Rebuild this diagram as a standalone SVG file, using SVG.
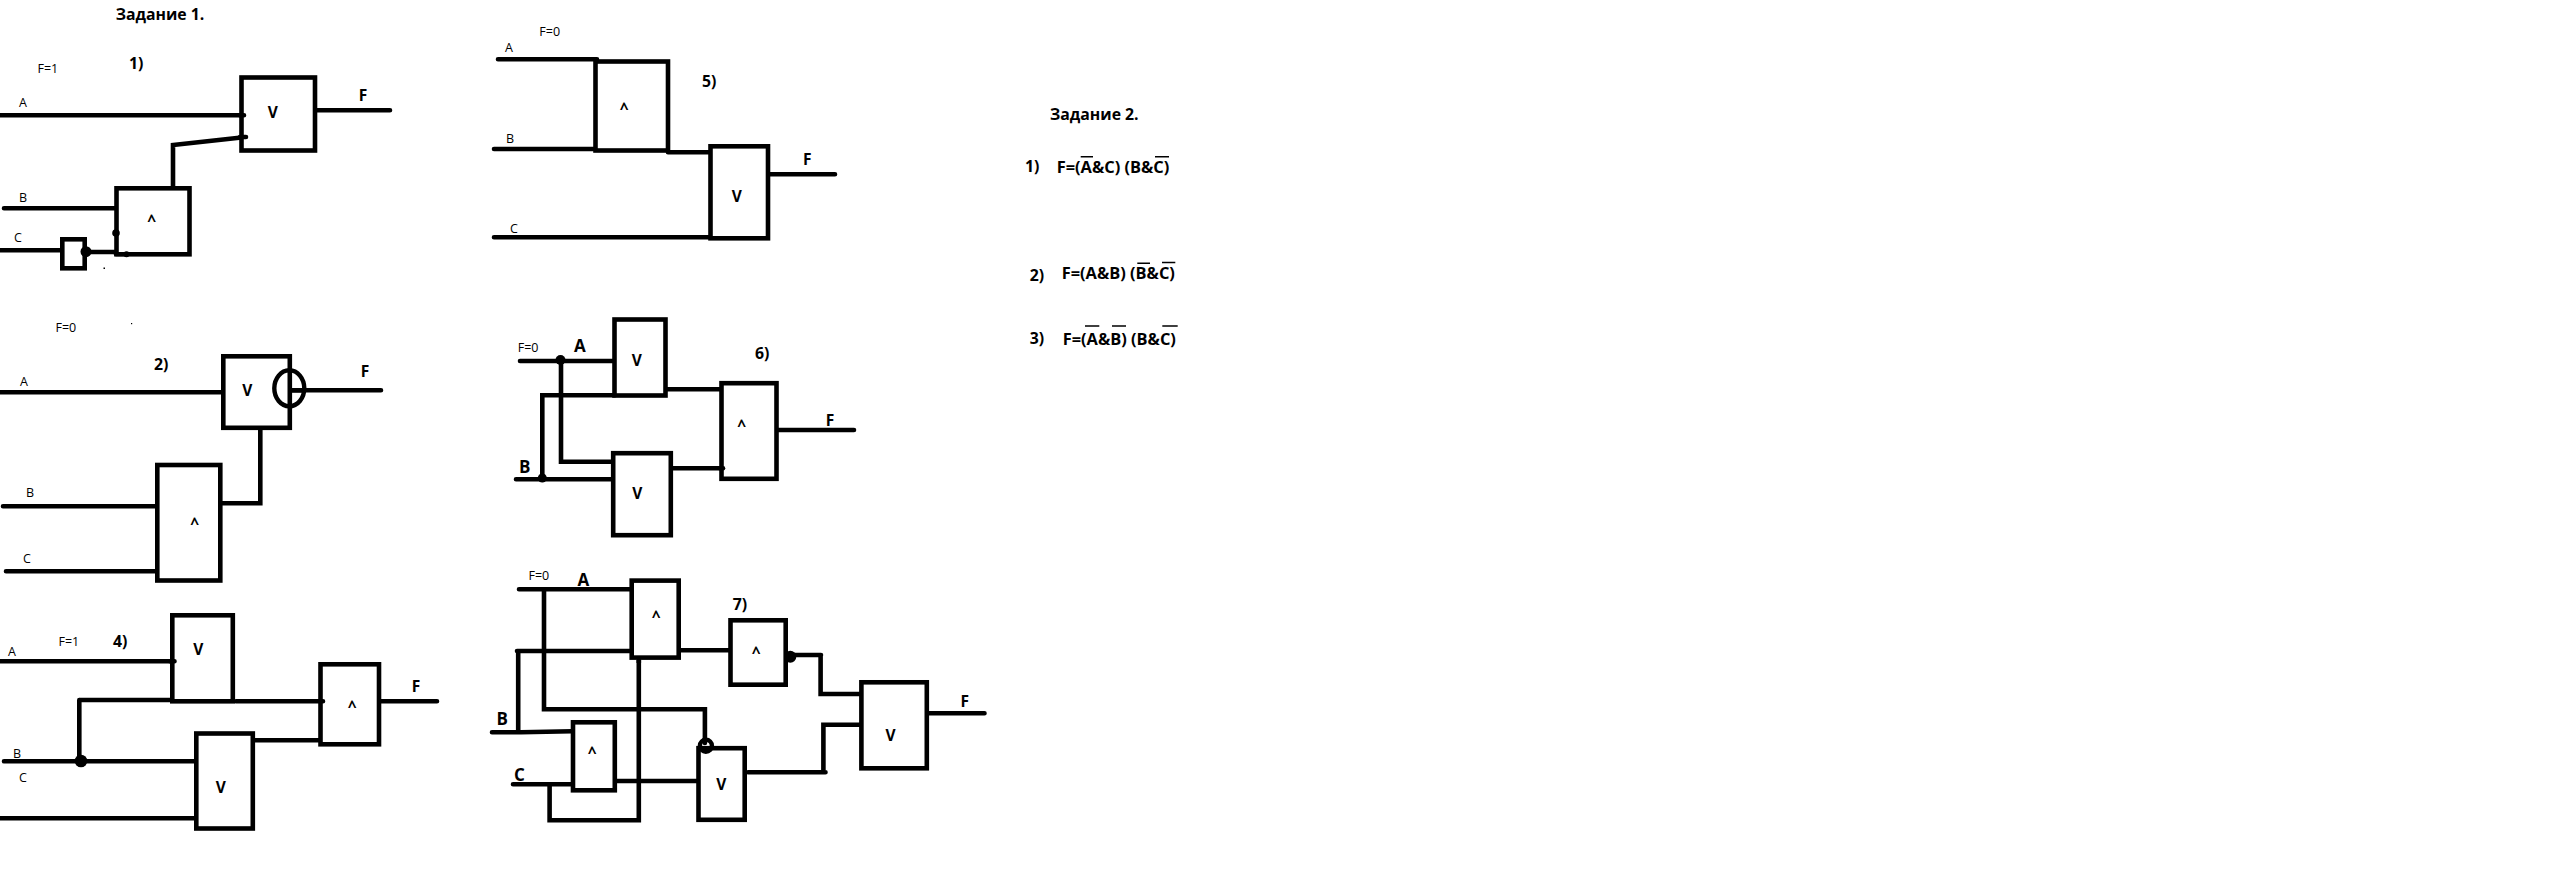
<svg xmlns="http://www.w3.org/2000/svg" width="2553" height="870" viewBox="0 0 2553 870">
<style>
text{font-family:"Open Sans","Noto Sans",sans-serif;fill:#000}
.g{fill:#fff;stroke:#000;stroke-width:4.6}
.w{fill:none;stroke:#000;stroke-width:4.6;stroke-linecap:round;stroke-linejoin:miter}
.o{fill:none;stroke:#000;stroke-width:1.4}
.d{fill:#000}
.r{fill:none;stroke:#000;stroke-width:4.4}
.b{font-weight:700;font-size:15.5px}
.c{font-weight:700;font-size:15.5px;text-anchor:middle}
.s{font-size:12.5px}
.h{font-weight:700;font-size:17px}
.t{font-weight:700;font-size:16.4px}
.n{font-weight:700;font-size:15.8px}
</style>
<rect width="2553" height="870" fill="#fff"/>
<g id="connectors">
<path class="w" d="M0 115.3H244M315 110.3H390M173 187V145L246 137M4 208.3H116M0 250.3H62M86 252H116M116 254H125"/>
<path class="w" d="M0 392.3H222M290 390.3H381M260.3 430V503.3H222M3 506.3H156M6 571.3H156"/>
<path class="w" d="M0 661.3H174.5M172 700H80M79.3 700V760.7M236 701.3H323M381 701.3H437M253 740.3H320M4 761.3H195M0 818.3H195"/>
<path class="w" d="M498 59.3H597M494 149H595M494 237.3H712M668 152.3H711M770 174.3H835"/>
<path class="w" d="M520 361H613M516 479.3H612M561 358V461.7H613M542.3 478V395.3H615M667 389.3H720M671 468.3H723M778 430H854"/>
<path class="w" d="M519 589.3H632M544 589.3V709.3H704.9V743M517 651H632M518.2 651V732.3M492 732.3H521L572 731.3M513 784.3H573M549.6 784.3V820.3H638.8V660M617 781H697M748 772.3H825.5M823.4 772.3V724.7H860M680 650.3H731M788 655H821M820.6 655V694H860M929 713.3H984.5"/>
</g>
<g id="title1"><text class="n" x="115.7" y="20">Задание 1.</text></g>
<g id="circuit1">
<text class="s" x="37.5" y="72.7">F=1</text>
<text class="n" x="129" y="69">1)</text>
<text class="s" x="19" y="107">A</text>
<text class="s" x="19" y="201.7">B</text>
<text class="s" x="14" y="241.7">C</text>
<text class="b" x="358.7" y="100.7">F</text>
</g>
<g id="n1-or"><rect class="g" x="241.5" y="77.5" width="73.5" height="73"/><text class="c" x="272.7" y="118">V</text></g>
<path class="w" d="M240 115.3H244M240 137H246"/>
<g id="n1-and"><rect class="g" x="116.5" y="188.3" width="73" height="66"/><text class="c" x="151.7" y="226">^</text></g>
<g id="n1-not"><rect class="g" x="62.3" y="239.3" width="22.4" height="29"/><circle class="d" cx="86" cy="251.7" r="5.5"/></g>
<circle class="d" cx="116" cy="233" r="3.8"/><circle class="d" cx="126.5" cy="254.3" r="3"/><rect class="d" x="103.5" y="267.5" width="1.5" height="1.5"/>
<g id="circuit2">
<text class="s" x="55.5" y="331.7">F=0</text>
<rect class="d" x="131" y="323" width="1.2" height="1.2"/>
<text class="n" x="154" y="370">2)</text>
<text class="s" x="20" y="386">A</text>
<text class="s" x="26" y="497.3">B</text>
<text class="s" x="23" y="562.7">C</text>
<text class="b" x="360.7" y="376.7">F</text>
</g>
<g id="n2-or"><rect class="g" x="223.3" y="356.3" width="66.5" height="71.5"/><text class="c" x="247.3" y="396">V</text><ellipse class="r" cx="289.3" cy="388.3" rx="15" ry="18"/><path class="w" style="stroke-linecap:butt" d="M289.5 390.3H306"/></g>
<g id="n2-and"><rect class="g" x="157.3" y="465" width="63" height="115.5"/><text class="c" x="194.7" y="529">^</text></g>
<g id="circuit4">
<text class="s" x="58.5" y="645.7">F=1</text>
<text class="n" x="113" y="646.7">4)</text>
<text class="s" x="8" y="656">A</text>
<text class="s" x="13" y="757.7">B</text>
<text class="s" x="19" y="782">C</text>
<text class="b" x="411.7" y="691.7">F</text>
<circle class="d" cx="81" cy="761" r="6.3"/>
</g>
<g id="n4-or1"><rect class="g" x="172.3" y="615.3" width="60.5" height="86"/><text class="c" x="198.3" y="655">V</text></g>
<g id="n4-or2"><rect class="g" x="196.3" y="733.5" width="56.5" height="95"/><text class="c" x="220.7" y="792.7">V</text></g>
<g id="n4-and"><rect class="g" x="320.5" y="664.3" width="58.5" height="80"/><text class="c" x="352.3" y="712">^</text></g>
<path class="w" d="M170 661.3H174.5M320 701.3H323"/>
<g id="circuit5">
<text class="s" x="539.3" y="35.7">F=0</text>
<text class="s" x="505" y="51.7">A</text>
<text class="s" x="506" y="142.7">B</text>
<text class="s" x="510" y="233.3">C</text>
<text class="n" x="702" y="87.3">5)</text>
<text class="b" x="803" y="165">F</text>
<rect class="d" x="747" y="189" width="1.2" height="1.2"/>
</g>
<g id="n5-and"><rect class="g" x="595.5" y="61.5" width="72.5" height="89"/><text class="c" x="624.3" y="114">^</text></g>
<g id="n5-or"><rect class="g" x="710.5" y="146.3" width="57.5" height="92"/><text class="c" x="736.7" y="201.7">V</text></g>
<g id="circuit6">
<text class="s" x="517.7" y="351.7">F=0</text>
<text class="h" x="574" y="352.3">A</text>
<text class="h" x="519" y="472.7">B</text>
<text class="n" x="755" y="359.3">6)</text>
<text class="b" x="825.7" y="425.7">F</text>
<circle class="d" cx="560.5" cy="360" r="5"/><circle class="d" cx="542.3" cy="478" r="4.5"/>
</g>
<g id="n6-or1"><rect class="g" x="614.5" y="319.5" width="51" height="76"/><text class="c" x="636.7" y="366">V</text></g>
<g id="n6-or2"><rect class="g" x="613.2" y="453.2" width="57.6" height="82"/><text class="c" x="637.3" y="499.3">V</text></g>
<g id="n6-and"><rect class="g" x="721.5" y="383.2" width="55" height="95.6"/><text class="c" x="741.7" y="431">^</text></g>
<path class="w" d="M720 468.3H723"/>
<g id="circuit7">
<text class="s" x="528.5" y="580">F=0</text>
<text class="h" x="577.5" y="586">A</text>
<text class="h" x="496.5" y="725">B</text>
<text class="h" x="514" y="780.7">C</text>
<text class="n" x="732.8" y="610">7)</text>
<text class="b" x="960.4" y="706.7">F</text>
</g>
<g id="n7-and1"><rect class="g" x="631.7" y="580.6" width="47" height="77"/><text class="c" x="656.3" y="622">^</text></g>
<g id="n7-and2"><rect class="g" x="573" y="722.3" width="41.8" height="68"/><text class="c" x="592.3" y="757.7">^</text></g>
<g id="n7-and3"><rect class="g" x="730.5" y="620.3" width="55.2" height="64.4"/><text class="c" x="756.2" y="658">^</text><circle class="d" cx="790.3" cy="656.7" r="6"/></g>
<g id="n7-or1"><rect class="g" x="698.5" y="748.2" width="46.2" height="71.6"/><text class="c" x="721.4" y="790">V</text><circle class="r" cx="705.9" cy="745.7" r="6"/></g>
<g id="n7-or2"><rect class="g" x="861.4" y="682.3" width="65.4" height="86"/><text class="c" x="890.5" y="740.7">V</text></g>
<path class="w" style="stroke-linecap:butt" d="M638.8 660V663"/>
<g id="task2">
<text class="n" x="1050" y="120">Задание 2.</text>
<text class="n" x="1025" y="172.3">1)</text>
<text class="t" x="1056.7" y="173">F=(A&amp;C) (B&amp;C)</text>
<path class="o" d="M1080.7 156.7H1093M1155 156.7H1169"/>
<text class="n" x="1029.7" y="280.7">2)</text>
<text class="t" x="1061.7" y="279.3">F=(A&amp;B) (B&amp;C)</text>
<path class="o" d="M1137.3 263.3H1150M1162 262.5H1175.3"/>
<text class="n" x="1029.7" y="344.3">3)</text>
<text class="t" x="1062.7" y="345">F=(A&amp;B) (B&amp;C)</text>
<path class="o" d="M1085 326H1099.3M1112 326H1126M1162.3 326H1177.7"/>
</g>
</svg>
